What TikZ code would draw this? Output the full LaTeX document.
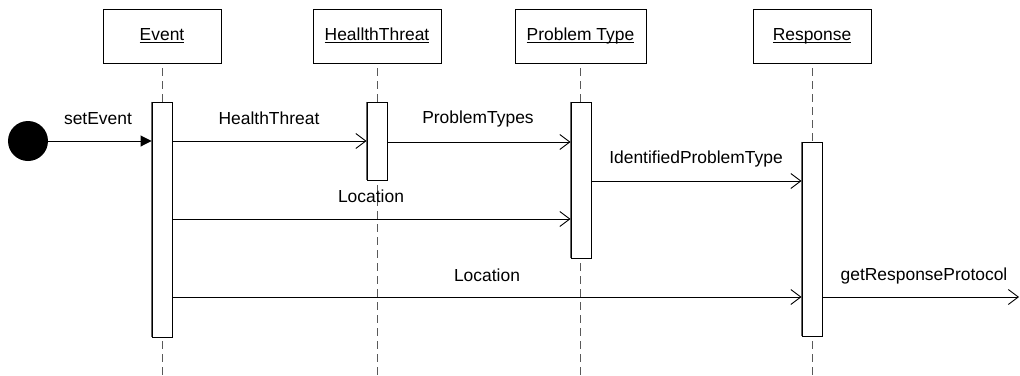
\documentclass[tikz,border=0pt]{standalone}
\usepackage{fontspec}
\setmainfont{Liberation Sans}
\usetikzlibrary{arrows.meta}
% underline at a fixed distance below the baseline, through descenders
\newcommand{\ulname}[1]{\underline{\smash{#1}}}
\begin{document}
\begin{tikzpicture}[x=1bp,y=-1bp,
  every node/.style={font=\fontsize{17.5}{20}\selectfont},
  headbox/.style={draw, line width=0.9bp, minimum height=54bp, inner sep=0pt,
    text height=12.5bp, text depth=3bp},
  lifeline/.style={draw=black!65, line width=1bp, dash pattern=on 8bp off 5bp},
  actbar/.style={draw, fill=white, line width=0.9bp, minimum width=20bp, inner sep=0pt},
  msg/.style={line width=0.9bp, -{Straight Barb[length=10bp,width=15bp]}},
  startmsg/.style={line width=0.9bp, -{Triangle[length=11bp,width=11bp]}},
  lbl/.style={anchor=base, inner sep=0pt}]
\useasboundingbox (0,0) rectangle (1020,375);

% object headers
\node[headbox, minimum width=118bp] (ev) at (162,36) {\ulname{Event}};
\node[headbox, minimum width=128bp] (ht) at (377,36) {\ulname{HeallthThreat}};
\node[headbox, minimum width=131bp] (pt) at (580.5,36) {\ulname{Problem Type}};
\node[headbox, minimum width=118bp] (rs) at (812,36) {\ulname{Response}};

% lifelines
\foreach \o in {ev,ht,pt,rs}
  \draw[lifeline] ([yshift=-5bp]\o.south) -- (\o.south |- 0,375);

% activation bars
\node[actbar, minimum height=235bp] (evbar) at (162,219.5) {};
\node[actbar, minimum height=78bp]  (htbar) at (377,141) {};
\node[actbar, minimum height=156bp] (ptbar) at (581,180) {};
\node[actbar, minimum height=194bp] (rsbar) at (812,239) {};
\foreach \b in {evbar,htbar,ptbar,rsbar}
  \draw[black!60, line width=1.6bp] (\b.north west) -- (\b.south west);

% initial node
\node[circle, fill=black, minimum size=40bp, inner sep=0pt] (start) at (28,141) {};
\coordinate (exit) at (1019,297);

% messages
\draw[startmsg] (start.east) -- (evbar.west |- start);
\draw[msg] (evbar.east |- 0,141) -- (htbar.west |- 0,141);
\draw[msg] (htbar.east |- 0,142) -- (ptbar.west |- 0,142);
\draw[msg] (ptbar.east |- 0,181) -- (rsbar.west |- 0,181);
\draw[msg] (evbar.east |- 0,219) -- (ptbar.west |- 0,219);
\draw[msg] (evbar.east |- 0,297) -- (rsbar.west |- 0,297);
\draw[msg] (rsbar.east |- exit) -- (exit);

% message labels
\node[lbl] (l1) at (98,124) {setEvent};
\node[lbl] (l2) at (269,124) {HealthThreat};
\node[lbl] (l3) at (478,123) {ProblemTypes};
\node[lbl] (l4) at (696,163) {IdentifiedProblemType};
\node[lbl] (l5) at (371,202) {Location};
\node[lbl] (l6) at (487,281) {Location};
\node[lbl] (l7) at (924,280) {getResponseProtocol};
\end{tikzpicture}
\end{document}
